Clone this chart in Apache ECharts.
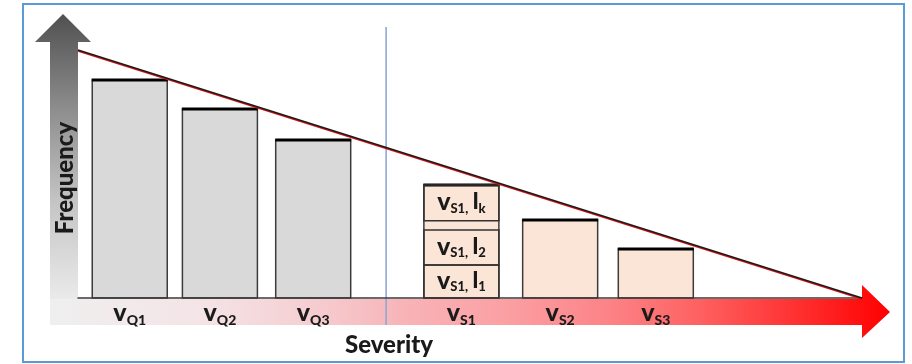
<!DOCTYPE html>
<html><head><meta charset="utf-8">
<script src="https://cdn.jsdelivr.net/npm/echarts@6/dist/echarts.min.js"></script>
<style>html,body{margin:0;padding:0;background:#fff}#c{width:912px;height:364px}</style>
</head><body><div id="c"></div>
<script>
// ---- data ----
const categories = ['Q1', 'Q2', 'Q3', 'S1', 'S2', 'S3'];
const severity = [6.6, 18.1, 30.0, 48.9, 61.5, 73.7];
const frequency = [87.9, 76.2, 63.7, 45.6, 31.5, 19.8];
const groups = ['Q', 'Q', 'Q', 'S', 'S', 'S'];
const s1Layers = ['1', '2', 'k'];
const s1LayerFrom = [0, 13.3, 31.1];
const s1LayerTo = [13.3, 27.4, 45.6];
const trendSeverity = [0, 100];
const trendFrequency = [100, 0];
const separatorSeverity = [39.3];
const xLabelName = 'Severity';
const yLabelName = 'Frequency';

// ---- styles ----
const FONT = 'Lato, "Open Sans", sans-serif';
const BAR_W = 75;
const INK = '#1a1a1a';
const richLabel = {
  v: {fontFamily: FONT, fontWeight: 900, fontSize: 25, lineHeight: 28, fill: INK},
  l: {fontFamily: FONT, fontWeight: 900, fontSize: 22, lineHeight: 28, fill: INK},
  s: {fontFamily: FONT, fontWeight: 900, fontSize: 14, lineHeight: 15, verticalAlign: 'bottom', fill: INK},
  sp: {fontSize: 10, lineHeight: 15}
};
const richLayer = {
  v: {fontFamily: FONT, fontWeight: 900, fontSize: 25, lineHeight: 26, fill: INK},
  l: {fontFamily: FONT, fontWeight: 900, fontSize: 23, lineHeight: 26, fill: INK},
  s: {fontFamily: FONT, fontWeight: 900, fontSize: 13, lineHeight: 14, verticalAlign: 'bottom', fill: INK},
  sp: {fontSize: 16, lineHeight: 14}
};

const chart = echarts.init(document.getElementById('c'), null, {renderer: 'canvas'});

function renderBar(params, api) {
  const i = params.dataIndex;
  const x = api.value(0), y = api.value(1);
  const base = api.coord([x, 0]);
  const top = api.coord([x, y]);
  const left = base[0] - BAR_W / 2;
  const fill = groups[i] === 'Q' ? '#d9d9d9' : '#fbe5d6';
  return {
    type: 'group',
    children: [
      {type: 'rect', shape: {x: left, y: top[1], width: BAR_W, height: base[1] - top[1]},
        style: {fill: fill, stroke: '#3c3c3c', lineWidth: 1.5}},
      {type: 'line', shape: {x1: left - 0.5, y1: top[1], x2: left + BAR_W + 0.5, y2: top[1]},
        style: {stroke: '#000', lineWidth: 3}},
      {type: 'text', x: base[0], y: base[1] + 15,
        style: {text: '{v|v}{s|' + categories[i] + '}', align: 'center', verticalAlign: 'middle', rich: richLabel}}
    ]
  };
}

function renderLayer(params, api) {
  const i = params.dataIndex;
  const x = api.value(0);
  const p0 = api.coord([x, api.value(1)]);
  const p1 = api.coord([x, api.value(2)]);
  const left = p0[0] - BAR_W / 2;
  return {
    type: 'group',
    children: [
      {type: 'rect', shape: {x: left, y: p1[1], width: BAR_W, height: p0[1] - p1[1]},
        style: {fill: 'rgba(0,0,0,0)', stroke: '#333', lineWidth: 1.5}},
      {type: 'text', x: p0[0], y: (p0[1] + p1[1]) / 2 - 1,
        style: {text: '{v|v}{s|' + categories[3] + ',}{sp| }{l|l}{s|' + s1Layers[i] + '}',
          align: 'center', verticalAlign: 'middle', rich: richLayer}}
    ]
  };
}

function renderTrend(params, api) {
  const a = api.coord([trendSeverity[0], trendFrequency[0]]);
  const b = api.coord([trendSeverity[1], trendFrequency[1]]);
  return {
    type: 'group',
    children: [
      {type: 'line', shape: {x1: a[0], y1: a[1] + 1, x2: b[0], y2: b[1] + 1}, style: {stroke: '#e01010', lineWidth: 1.6}},
      {type: 'line', shape: {x1: a[0], y1: a[1], x2: b[0], y2: b[1]}, style: {stroke: '#1a1a1a', lineWidth: 1.4}}
    ]
  };
}

function renderSeparator(params, api) {
  const a = api.coord([api.value(0), 109.3]);
  const b = api.coord([api.value(0), -10.9]);
  return {type: 'line', shape: {x1: a[0], y1: a[1], x2: b[0], y2: b[1]}, style: {stroke: '#8ea9d4', lineWidth: 1.6}};
}

const option = {
  animation: false,
  backgroundColor: '#fff',
  grid: {left: 78, right: 50, top: 50, bottom: 66},
  xAxis: {type: 'value', min: 0, max: 100, z: 5,
    axisLine: {show: true, lineStyle: {color: '#3a3a3a', width: 1.5}},
    axisTick: {show: false}, axisLabel: {show: false}, splitLine: {show: false}},
  yAxis: {type: 'value', min: 0, max: 100, show: false, splitLine: {show: false}},
  graphic: [
    {type: 'rect', z: -20, shape: {x: 23, y: 4, width: 881, height: 358},
      style: {fill: '#fff', stroke: '#5b9bd5', lineWidth: 2}},
    {type: 'polygon', z: -10,
      shape: {points: [[50, 325], [50, 42], [35, 42], [63, 14], [91, 42], [78, 42], [78, 325]]},
      style: {fill: new echarts.graphic.LinearGradient(0, 0, 0, 1, [
        {offset: 0, color: '#505050'}, {offset: 0.3, color: '#8c8c8c'},
        {offset: 0.6, color: '#c4c4c4'}, {offset: 1, color: '#f4f4f4'}])}},
    {type: 'polygon', z: -9,
      shape: {points: [[50, 299], [862, 299], [862, 285], [890, 312], [862, 338], [862, 325], [50, 325]]},
      style: {fill: new echarts.graphic.LinearGradient(0, 0, 1, 0, [
        {offset: 0, color: '#efefef'}, {offset: 0.18, color: '#f4e4e6'},
        {offset: 0.3, color: '#f5d0d4'}, {offset: 0.42, color: '#f8b4b8'},
        {offset: 0.54, color: '#fba0a4'}, {offset: 0.66, color: '#fc8488'},
        {offset: 0.77, color: '#fe6262'}, {offset: 0.89, color: '#ff3030'},
        {offset: 1, color: '#ff0000'}])}},
    {type: 'text', x: 65, y: 178, rotation: Math.PI / 2, z: 10,
      style: {text: yLabelName, font: '900 24px ' + FONT, fill: INK, align: 'center', verticalAlign: 'middle'}},
    {type: 'text', x: 389, y: 345, z: 10,
      style: {text: xLabelName, font: '900 24px ' + FONT, fill: INK, align: 'center', verticalAlign: 'middle'}}
  ],
  series: [
    {type: 'custom', name: 'bars', renderItem: renderBar, z: 2,
      data: severity.map((s, i) => [s, frequency[i]])},
    {type: 'custom', name: 'layers', renderItem: renderLayer, z: 3,
      data: s1Layers.map((l, i) => [severity[3], s1LayerFrom[i], s1LayerTo[i]])},
    {type: 'custom', name: 'separator', renderItem: renderSeparator, z: 4,
      data: separatorSeverity.map(s => [s])},
    {type: 'custom', name: 'trend', renderItem: renderTrend, z: 6, data: [[0, 0]]}
  ]
};
chart.setOption(option);
</script></body></html>
